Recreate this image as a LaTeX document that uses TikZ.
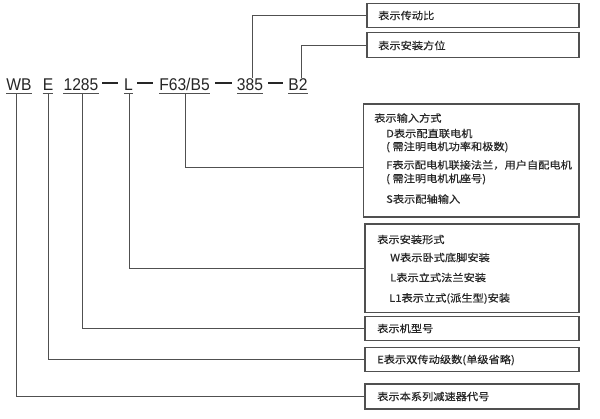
\documentclass[tikz,border=0pt]{standalone}
\usepackage{fontspec}
\newfontfamily\cjk[FakeStretch=1.1,FakeBold=0.25]{Noto Sans CJK SC}
\newfontfamily\codefont[FakeStretch=0.92]{Liberation Sans}
\definecolor{linegray}{HTML}{505050}
\definecolor{txt}{HTML}{262626}
\begin{document}
\begin{tikzpicture}[x=1pt,y=-1pt,
  infobox/.style={draw=linegray, line width=1.2pt, fill=white, inner sep=0pt},
  lbl/.style={anchor=west, inner sep=0pt, text=txt, font=\cjk\fontsize{10.2}{12}\selectfont},
  code/.style={anchor=base, inner sep=0pt, text=txt, font=\codefont\fontsize{17}{20}\selectfont},
  conn/.style={draw=linegray, line width=0.9pt},
  uline/.style={draw=linegray, line width=0.9pt},
  hyph/.style={draw=txt, line width=1.3pt}]
\useasboundingbox[fill=white] (0,0) rectangle (600,418);

% code tokens
\node[code] (wb) at (19,90) {WB};
\node[code] (e) at (48,90) {E};
\node[code] (n1285) at (81,90) {1285};
\node[code] (l) at (128.5,90) {L};
\node[code] (f63) at (184.5,90) {F63/B5};
\node[code] (n385) at (250,90) {385};
\node[code] (b2) at (298,90) {B2};

% dashes
\draw[hyph] (102,83) -- (118,83);
\draw[hyph] (137,83) -- (153,83);
\draw[hyph] (215,83) -- (232,83);
\draw[hyph] (268,83) -- (283,83);

% underlines
\foreach \t in {wb,e,n1285,l,f63,n385,b2}{
  \draw[uline] ([yshift=-3pt]\t.base west) -- ([yshift=-3pt]\t.base east);
}

% boxes
\node[infobox, minimum width=212pt, minimum height=24pt] (b1) at (473,15.3) {};
\node[infobox, minimum width=212pt, minimum height=24.6pt] (bx2) at (473,45) {};
\node[infobox, minimum width=215.5pt, minimum height=113pt] (b3) at (471.25,160.5) {};
\node[infobox, minimum width=214pt, minimum height=88.5pt] (b4) at (472,268.25) {};
\node[infobox, minimum width=214pt, minimum height=24pt] (b5) at (472,328.7) {};
\node[infobox, minimum width=214pt, minimum height=24pt] (b6) at (472,359.7) {};
\node[infobox, minimum width=214pt, minimum height=25pt] (b7) at (472,396.5) {};

% box texts
\node[lbl] (t1) at (378,15.5) {表示传动比};
\node[lbl] (t2) at (378,45.5) {表示安装方位};

\node[lbl] (t3a) at (374,118) {表示输入方式};
\node[lbl] (t3b) at (386,133.5) {D表示配直联电机};
\node[lbl] (t3c) at (386,147) {( 需注明电机功率和极数)};
\node[lbl] (t3d) at (386,165) {F表示配电机联接法兰，用户自配电机};
\node[lbl] (t3e) at (386,179) {( 需注明电机机座号)};
\node[lbl] (t3f) at (386,199) {S表示配轴输入};

\node[lbl] (t4a) at (377,239.5) {表示安装形式};
\node[lbl] (t4b) at (390,257.5) {W表示卧式底脚安装};
\node[lbl] (t4c) at (390,277.5) {L表示立式法兰安装};
\node[lbl] (t4d) at (389,298.5) {L1表示立式(派生型)安装};

\node[lbl] (t5) at (377,328.5) {表示机型号};
\node[lbl] (t6) at (377,360) {E表示双传动级数(单级省略)};
\node[lbl] (t7) at (377,396.5) {表示本系列减速器代号};

% connectors
\draw[conn] ([xshift=-3pt,yshift=-3pt]wb.base) |- (b7.west);
\draw[conn] ([yshift=-3pt]e.base) |- (b6.west);
\draw[conn] ([xshift=1pt,yshift=-3pt]n1285.base) |- (b5.west);
\draw[conn] ([xshift=1pt,yshift=-3pt]l.base) |- (b4.west);
\draw[conn] ([xshift=1pt,yshift=-3pt]f63.base) |- ([yshift=-6.5pt]b3.west);
\draw[conn] ([xshift=2pt]n385.north) |- (b1.west);
\draw[conn] ([xshift=3pt]b2.north) |- (bx2.west);
\end{tikzpicture}
\end{document}
